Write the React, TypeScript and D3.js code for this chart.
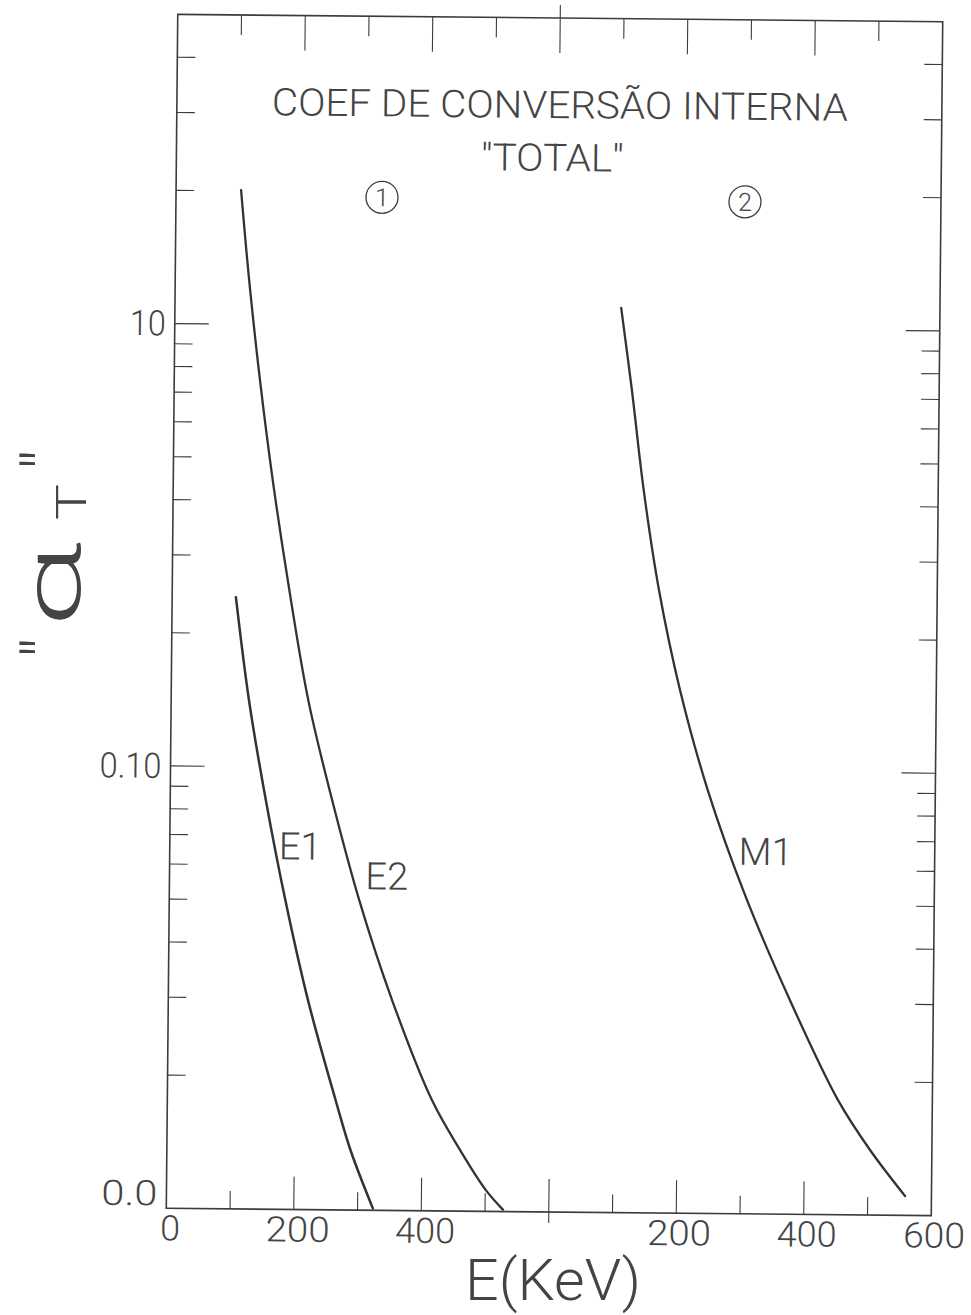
import React from 'react';
import * as d3 from 'd3';

// ---------- data ----------
const e1Energy = [100, 122, 150, 182, 219, 264, 288, 324];
const e1Alpha = [0.2415, 0.1415, 0.0841, 0.0501, 0.0298, 0.0177, 0.01367, 0.0101];

const e2Energy = [102, 116, 134.5, 156, 181, 215, 254, 298, 351, 415, 460, 501, 528];
const e2Alpha = [2.01, 1.259, 0.748, 0.445, 0.265, 0.142, 0.0844, 0.0502, 0.0299, 0.0178, 0.01374, 0.01117, 0.0101];

const m1Energy = [100, 118, 138, 163.5, 198, 243, 303, 375, 452, 503, 558.6];
const m1Alpha = [1.109, 0.724, 0.4306, 0.256, 0.1523, 0.0906, 0.0526, 0.0305, 0.01816, 0.01403, 0.01106];

const energyTicks = [0, 100, 200, 300, 400, 500, 600];
const energyMajor = [0, 200, 400, 600];
const panel1TickValues = [0, 200, 400];
const panel1TickLabels = ['0', '200', '400'];
const panel2TickValues = [200, 400, 600];
const panel2TickLabels = ['200', '400', '600'];

const alphaMajorTicks = [0.01, 0.1, 1];
const alphaTickLabels = ['0.0', '0.10', '10'];
const alphaMinorTicks = [0.02, 0.03, 0.04, 0.05, 0.06, 0.07, 0.08, 0.09, 0.2, 0.3, 0.4, 0.5, 0.6, 0.7, 0.8, 0.9, 2, 3, 4];

const titleLine1 = 'COEF DE CONVERSÃO INTERNA';
const titleLine2 = '"TOTAL"';

// ---------- layout ----------
const W = 971;
const H = 1315;
const L = 172;
const R = 937;
const MID = 554.5;
const T = 18;
const B = 1212;
const ROT = 0.55;
const INK = '#3c3c3c';
const FONT = "Roboto, 'DejaVu Sans', sans-serif";

const yLabelWidth: Record<string, number> = { '0.0': 56, '0.10': 62, '10': 36 };
const xLabelWidth: Record<string, number> = { '0': 20, '200': 64, '400': 60, '600': 62 };

export default function App() {
  const x1 = d3.scaleLinear().domain([0, 600]).range([L, MID]);
  const x2 = d3.scaleLinear().domain([0, 600]).range([MID, R]);
  const y = d3.scaleLog().domain([0.01, 5]).range([B, T]);

  const mk = (xs: number[], ys: number[], sx: d3.ScaleLinear<number, number>) =>
    d3
      .line<number>()
      .x((i) => sx(xs[i]))
      .y((i) => y(ys[i]))
      .curve(d3.curveCatmullRom.alpha(0.5))(xs.map((_, i) => i)) || '';

  const e1Path = mk(e1Energy, e1Alpha, x1);
  const e2Path = mk(e2Energy, e2Alpha, x1);
  const m1Path = mk(m1Energy, m1Alpha, x2);

  const xTickEls: JSX.Element[] = [];
  [x1, x2].forEach((sx, p) => {
    energyTicks.forEach((v) => {
      if ((p === 0 && v === 0) || (p === 1 && (v === 600 || v === 0))) return;
      const xx = sx(v);
      const major = energyMajor.includes(v);
      const isBoundary = p === 0 && v === 600;
      const lenB = major ? 33 : 18;
      const lenT = major ? 35 : 20;
      xTickEls.push(
        <line key={`b${p}-${v}`} x1={xx} x2={xx} y1={B - lenB} y2={isBoundary ? B + 11 : B} stroke={INK} strokeWidth={1.1} />
      );
      xTickEls.push(
        <line key={`t${p}-${v}`} x1={xx} x2={xx} y1={isBoundary ? T - 13 : T} y2={T + lenT} stroke={INK} strokeWidth={1.1} />
      );
    });
  });

  const yTickEls: JSX.Element[] = [];
  alphaMajorTicks.forEach((v) => {
    if (v === 0.01) return;
    const yy = y(v);
    yTickEls.push(<line key={`lM${v}`} x1={L} x2={L + 34} y1={yy} y2={yy} stroke={INK} strokeWidth={1.2} />);
    yTickEls.push(<line key={`rM${v}`} x1={R - 34} x2={R} y1={yy} y2={yy} stroke={INK} strokeWidth={1.2} />);
  });
  alphaMinorTicks.forEach((v) => {
    const yy = y(v);
    yTickEls.push(<line key={`lm${v}`} x1={L} x2={L + 18} y1={yy} y2={yy} stroke={INK} strokeWidth={1.1} />);
    yTickEls.push(<line key={`rm${v}`} x1={R - 18} x2={R} y1={yy} y2={yy} stroke={INK} strokeWidth={1.1} />);
  });

  const textStyle = { fontFamily: FONT, fontWeight: 300 as const, fill: '#444' };

  return (
    <svg width={W} height={H} style={{ position: 'absolute', left: 0, top: 0, background: '#fff' }}>
      <rect x={0} y={0} width={W} height={H} fill="#fff" />
      <g transform={`rotate(${ROT}, ${(L + R) / 2}, ${(T + B) / 2})`}>
        <rect x={L} y={T} width={R - L} height={B - T} fill="none" stroke={INK} strokeWidth={1.6} />
        {xTickEls}
        {yTickEls}

        {/* curves */}
        <path d={e1Path} fill="none" stroke="#333" strokeWidth={2.5} strokeLinecap="round" />
        <path d={e2Path} fill="none" stroke="#333" strokeWidth={2.3} strokeLinecap="round" />
        <path d={m1Path} fill="none" stroke="#333" strokeWidth={2.3} strokeLinecap="round" />

        {/* y tick labels */}
        {alphaMajorTicks.map((v, i) => (
          <text
            key={`yl${v}`}
            x={163}
            y={Math.min(y(v) + 12, B - 3)}
            textAnchor="end"
            fontSize={35}
            textLength={yLabelWidth[alphaTickLabels[i]]}
            lengthAdjust="spacingAndGlyphs"
            {...textStyle}
          >
            {alphaTickLabels[i]}
          </text>
        ))}

        {/* x tick labels */}
        {panel1TickValues.map((v, i) => (
          <text
            key={`p1${v}`}
            x={x1(v) + 4}
            y={B + 32}
            textAnchor="middle"
            fontSize={35}
            textLength={xLabelWidth[panel1TickLabels[i]]}
            lengthAdjust="spacingAndGlyphs"
            {...textStyle}
          >
            {panel1TickLabels[i]}
          </text>
        ))}
        {panel2TickValues.map((v, i) => (
          <text
            key={`p2${v}`}
            x={x2(v) + 3}
            y={B + 32}
            textAnchor="middle"
            fontSize={35}
            textLength={xLabelWidth[panel2TickLabels[i]]}
            lengthAdjust="spacingAndGlyphs"
            {...textStyle}
          >
            {panel2TickLabels[i]}
          </text>
        ))}

        {/* title */}
        <text x={555} y={118} textAnchor="middle" fontSize={38} textLength={576} lengthAdjust="spacingAndGlyphs" {...textStyle}>
          {titleLine1}
        </text>
        <text x={548} y={171} textAnchor="middle" fontSize={38} textLength={143} lengthAdjust="spacingAndGlyphs" {...textStyle}>
          {titleLine2}
        </text>

        {/* circled panel numbers */}
        <circle cx={378} cy={199} r={16} fill="none" stroke={INK} strokeWidth={1.3} />
        <text x={378} y={208} textAnchor="middle" fontSize={25} {...textStyle}>1</text>
        <circle cx={741} cy={200} r={16} fill="none" stroke={INK} strokeWidth={1.3} />
        <text x={741} y={209} textAnchor="middle" fontSize={25} {...textStyle}>2</text>

        {/* curve labels */}
        <text x={281} y={862} fontSize={38} {...textStyle}>E1</text>
        <text x={368} y={891} fontSize={38} {...textStyle}>E2</text>
        <text x={741} y={863} fontSize={38} {...textStyle}>M1</text>
      </g>

      {/* x-axis title */}
      <text x={465} y={1300} fontSize={58} textLength={176} lengthAdjust="spacingAndGlyphs" {...textStyle}>
        E(KeV)
      </text>

      {/* y-axis title: "αT" rotated */}
      <g transform="translate(80,660) rotate(-90)">
        <text x={2} y={-8} fontSize={70} {...textStyle}>"</text>
        <text x={32} y={0} fontSize={80} textLength={86} lengthAdjust="spacingAndGlyphs" {...textStyle}>α</text>
        <text x={140} y={6} fontSize={42} textLength={36} lengthAdjust="spacingAndGlyphs" {...textStyle}>T</text>
        <text x={190} y={-8} fontSize={70} {...textStyle}>"</text>
      </g>
    </svg>
  );
}
